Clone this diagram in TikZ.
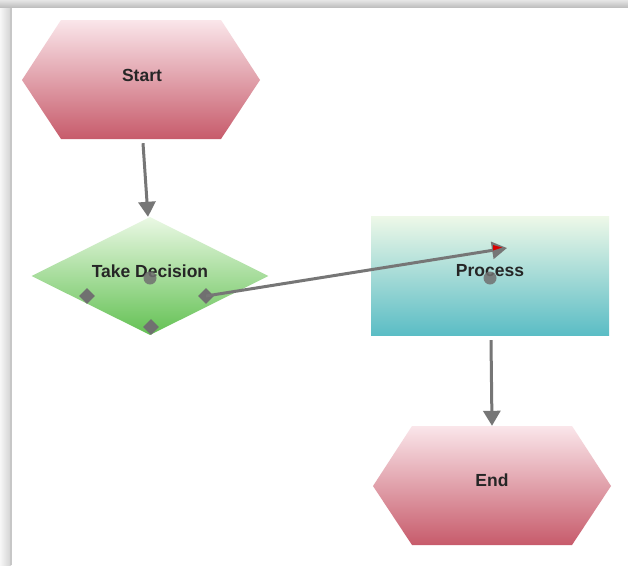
\documentclass[tikz,border=0pt]{standalone}
\usepackage{fontspec}
\setmainfont{Liberation Sans}
\usetikzlibrary{shapes.geometric,arrows.meta}
\definecolor{hexTop}{HTML}{FAE6EA}
\definecolor{hexBot}{HTML}{C75B6B}
\definecolor{decTop}{HTML}{EAF8E4}
\definecolor{decBot}{HTML}{63C153}
\definecolor{procTop}{HTML}{EEF8E8}
\definecolor{procBot}{HTML}{5BBDC5}
\definecolor{lineGray}{HTML}{767676}
\definecolor{portGray}{HTML}{707070}
\tikzset{
  hexfill/.style={top color=hexTop, bottom color=hexBot, draw=none},
  anchorbox/.style={rectangle, draw=none, inner sep=0pt, minimum width=238pt, minimum height=119pt},
  lbl/.style={font=\bfseries\fontsize{17.5}{20}\selectfont, text=black!85, inner sep=0pt},
  conn/.style={draw=lineGray, line width=3pt, -{Triangle[length=15pt,width=17pt]}},
  port/.style={diamond, fill=portGray, inner sep=0pt, minimum size=16pt},
  dot/.style={circle, fill=portGray, fill opacity=0.85, inner sep=0pt, minimum size=13pt}
}
\begin{document}
\begin{tikzpicture}[x=1pt,y=-1pt]
\useasboundingbox (0,0) rectangle (628,565);
\fill[white] (0,0) rectangle (628,565);
% inset shadow frame
\shade[left color=black!3, right color=black!18] (0,0) rectangle (11,565);
\fill[black!22] (10,7) rectangle (12,565);
\shade[top color=black!10, bottom color=black!25] (0,0) rectangle (628,7);

% Start hexagon
\path[hexfill] (22,80) -- (61,20) -- (221,20) -- (260,80) -- (221,139) -- (61,139) -- cycle;
\node[anchorbox] (start) at (141,79.5) {};
\node[lbl] (startT) at (142,75) {Start};

% End hexagon
\path[hexfill] (373,486) -- (412,426) -- (572,426) -- (611,486) -- (572,545) -- (412,545) -- cycle;
\node[anchorbox] (end) at (492,485.5) {};
\node[lbl] (endT) at (492,480) {End};

% Decision diamond
\node[diamond, aspect=2, inner sep=0pt, minimum width=237pt, minimum height=118pt,
      top color=decTop, bottom color=decBot, draw=none] (dec) at (150,276) {};
\node[lbl] (decT) at (150,271) {Take Decision};

% Process rectangle
\node[rectangle, minimum width=238pt, minimum height=119pt, inner sep=0pt,
      top color=procTop, bottom color=procBot, draw=none] (proc) at (490,275.5) {};
\node[lbl] (procT) at (490,271) {Process};

% center dots
\node[dot] (decDot) at (150,278) {};
\node[dot] (procDot) at (490,278) {};

% ports
\node[port] (pL) at (87,296) {};
\node[port] (pR) at (206,296) {};
\node[port] (pB) at (151,327) {};

% connectors
\coordinate (tipP) at (507,248);
\draw[conn] ([xshift=2pt,yshift=-4pt]start.south) -- ([xshift=-2pt]dec.north);
\draw[conn] (pR.center) -- (tipP);
\fill[red!85!black] (493,245) -- (502,247.5) -- (493,250.5) -- cycle;
\draw[conn] ([xshift=1pt,yshift=-5pt]proc.south) -- (end.north);
\end{tikzpicture}
\end{document}
